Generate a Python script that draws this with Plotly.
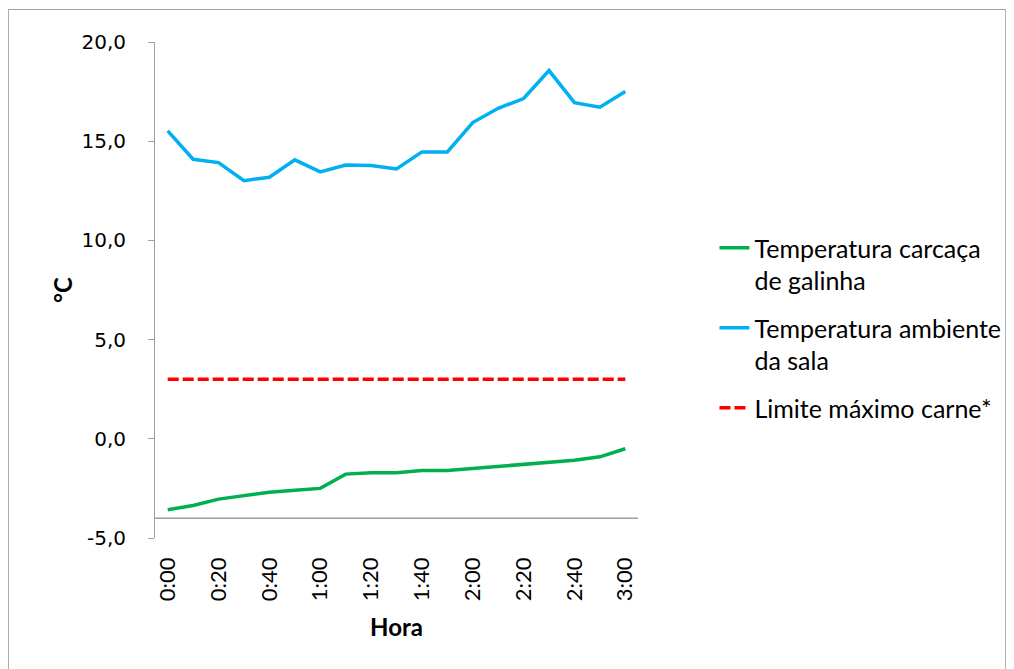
import plotly.graph_objects as go

horas = ["0:00", "0:10", "0:20", "0:30", "0:40", "0:50", "1:00", "1:10", "1:20", "1:30",
         "1:40", "1:50", "2:00", "2:10", "2:20", "2:30", "2:40", "2:50", "3:00"]
carcaca = [-3.58, -3.36, -3.04, -2.87, -2.69, -2.59, -2.50, -1.78, -1.71, -1.71,
           -1.60, -1.60, -1.50, -1.39, -1.29, -1.19, -1.08, -0.91, -0.50]
ambiente = [15.52, 14.09, 13.92, 13.01, 13.18, 14.06, 13.45, 13.80, 13.77, 13.60,
            14.46, 14.46, 15.94, 16.66, 17.15, 18.56, 16.94, 16.71, 17.50]
limite = [3.0] * len(horas)
x_tick_labels = horas[::2]
y_tick_vals = [-5, 0, 5, 10, 15, 20]
y_tick_text = ["-5,0", "0,0", "5,0", "10,0", "15,0", "20,0"]

nomes = ["Temperatura carcaça<br>de galinha", "Temperatura ambiente<br>da sala", "Limite máximo carne*"]

AX = "#a0a0a0"
FONT = "Lato"

# plot area in figure pixels (page body adds an 8px offset)
L, T, W, H = 147, 34, 482.6, 496
FW, FH = 1014, 669

fig = go.Figure()
fig.add_trace(go.Scatter(x=horas, y=carcaca, mode="lines", name=nomes[0], legendgroup="a",
                         line=dict(color="#00b050", width=3.5)))
fig.add_trace(go.Scatter(x=horas, y=ambiente, mode="lines", name=nomes[1], legendgroup="b",
                         line=dict(color="#00b0f0", width=3.5)))
fig.add_trace(go.Scatter(x=horas, y=limite, mode="lines", name=nomes[2], legendgroup="c",
                         line=dict(color="#ff0000", width=3.5, dash="11px,4px")))

def px_x(p):
    return (p - L) / W

def px_y(p):
    return (T + H - p) / H

fig.update_layout(
    width=FW, height=FH,
    margin=dict(l=L, r=FW - L - W, t=T, b=FH - T - H),
    paper_bgcolor="white", plot_bgcolor="white",
    separators=",.",
    font=dict(family=FONT, color="black", size=22),
    showlegend=True,
    legend=dict(x=px_x(706), y=px_y(217), xanchor="left", yanchor="top", valign="top",
                font=dict(family=FONT, size=25), tracegroupgap=12, bgcolor="rgba(0,0,0,0)"),
    xaxis=dict(type="category", range=[-0.5, 18.5], tickmode="array", tickvals=x_tick_labels,
               ticktext=x_tick_labels, tickangle=-90, showline=False, showgrid=False,
               ticks="", ticklabelstandoff=14, tickfont=dict(family=FONT, size=22),
               title=dict(text="<b>Hora</b>", font=dict(family=FONT, size=24), standoff=19)),
    yaxis=dict(range=[-5, 20], tickmode="array", tickvals=y_tick_vals, ticktext=y_tick_text,
               showline=True, linecolor=AX,
               linewidth=1, ticks="outside", ticklen=6, tickcolor=AX, showgrid=False,
               zeroline=False, ticklabelstandoff=18,
               tickfont=dict(family="DejaVu Sans", size=20),
               title=dict(text="<b>°C</b>", font=dict(family=FONT, size=24), standoff=2)),
)

# horizontal (category) axis line crossing at -4
fig.add_shape(type="line", xref="paper", yref="y", x0=0, x1=1, y0=-4, y1=-4,
              line=dict(color=AX, width=1.5), layer="below")
# chart outer border
fig.add_shape(type="rect", xref="paper", yref="paper", x0=px_x(0.5), x1=px_x(997), y0=px_y(700),
              y1=px_y(1.5), line=dict(color=AX, width=1), layer="below")

fig.write_html("out.html")
